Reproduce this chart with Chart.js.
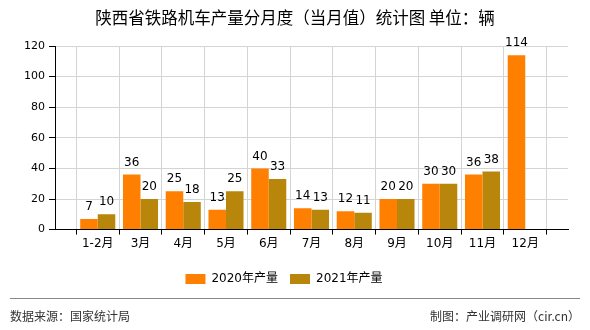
<!DOCTYPE html>
<html lang="zh">
<head>
    <meta charset="UTF-8">
    <title>陕西省铁路机车产量分月度（当月值）统计图</title>
    <script src="https://cdn.jsdelivr.net/npm/chart.js"></script>
    <style>
        html, body { margin: 0; padding: 0; background: #fff; }
        #box { width: 590px; height: 330px; position: relative; }
    </style>
</head>
<body>
    <div id="box"><canvas id="prodChart" width="590" height="330"></canvas></div>

    <script>
        // data
        const months = ['1-2月', '3月', '4月', '5月', '6月', '7月', '8月', '9月', '10月', '11月', '12月'];
        const output2020 = [7, 36, 25, 13, 40, 14, 12, 20, 30, 36, 114];
        const output2021 = [10, 20, 18, 25, 33, 13, 11, 20, 30, 38, null];
        const seriesNames = ['2020年产量', '2021年产量'];
        const yTicks = [0, 20, 40, 60, 80, 100, 120];

        const titleText = '陕西省铁路机车产量分月度（当月值）统计图 单位：辆';
        const cnFont = '"DejaVu Sans", "Noto Sans CJK SC", sans-serif';

        // empty slot at each end, like the original axis
        const labels = ['', ...months, ''];
        const pad = arr => [null, ...arr, null];

        // values above bars
        const valueLabels = {
            id: 'valueLabels',
            afterDatasetsDraw(chart) {
                const ctx = chart.ctx;
                ctx.save();
                ctx.font = '12px ' + cnFont;
                ctx.fillStyle = '#000';
                ctx.textAlign = 'center';
                ctx.textBaseline = 'bottom';
                chart.data.datasets.forEach((ds, i) => {
                    chart.getDatasetMeta(i).data.forEach((bar, j) => {
                        const v = ds.data[j];
                        if (v === null || v === undefined) return;
                        ctx.fillText(String(v), bar.x, bar.y - 6);
                    });
                });
                ctx.restore();
            }
        };

        // title centred on the whole picture, source line at the bottom
        const frame = {
            id: 'frame',
            afterDraw(chart) {
                const ctx = chart.ctx;
                ctx.save();
                ctx.fillStyle = '#000';
                ctx.font = '16.5px "Noto Sans CJK SC", sans-serif';
                ctx.textAlign = 'center';
                ctx.textBaseline = 'middle';
                ctx.fillText(titleText, 295, 18);

                ctx.strokeStyle = '#888';
                ctx.lineWidth = 1;
                ctx.beginPath();
                ctx.moveTo(10, 298.5);
                ctx.lineTo(580, 298.5);
                ctx.stroke();
                ctx.font = '12px "Noto Sans CJK SC", sans-serif';
                ctx.fillStyle = '#333';
                ctx.textAlign = 'left';
                ctx.fillText('数据来源：国家统计局', 10, 316);
                ctx.textAlign = 'right';
                ctx.fillText('制图：产业调研网（cir.cn）', 580, 316);
                ctx.restore();
            }
        };

        const ctx = document.getElementById('prodChart').getContext('2d');
        const chart = new Chart(ctx, {
            type: 'bar',
            data: {
                labels: labels,
                datasets: [
                    {
                        label: seriesNames[0],
                        data: pad(output2020),
                        backgroundColor: '#ff8000',
                    },
                    {
                        label: seriesNames[1],
                        data: pad(output2021),
                        backgroundColor: '#b8860b',
                    },
                ],
            },
            options: {
                responsive: false,
                animation: false,
                datasets: { bar: { categoryPercentage: 0.82, barPercentage: 1 } },
                layout: { padding: { left: 0, right: 22, top: 46, bottom: 35 } },
                plugins: {
                    title: { display: false },
                    legend: {
                        position: 'bottom',
                        labels: {
                            boxWidth: 20,
                            boxHeight: 10,
                            color: '#000',
                            font: { family: cnFont, size: 12 },
                            padding: 12,
                        },
                    },
                    tooltip: { enabled: false },
                },
                scales: {
                    x: {
                        offset: false,
                        afterFit: axis => { axis.height += 8; },
                        grid: { color: '#d4d4d4', tickColor: '#000', tickLength: 5, drawOnChartArea: true },
                        border: { color: '#000', width: 1 },
                        ticks: {
                            autoSkip: false,
                            maxRotation: 0,
                            color: '#000',
                            font: { family: cnFont, size: 12 },
                            padding: 2,
                        },
                    },
                    y: {
                        min: 0,
                        max: 120,
                        afterBuildTicks: axis => { axis.ticks = yTicks.map(v => ({ value: v })); },
                        afterFit: axis => { axis.width = 55; },
                        grid: { color: '#d4d4d4', tickColor: '#000', tickLength: 6 },
                        border: { color: '#000', width: 1 },
                        ticks: {
                            color: '#000',
                            font: { family: cnFont, size: 11 },
                            padding: 4,
                        },
                    },
                },
            },
            plugins: [valueLabels, frame],
        });
    </script>
</body>
</html>
